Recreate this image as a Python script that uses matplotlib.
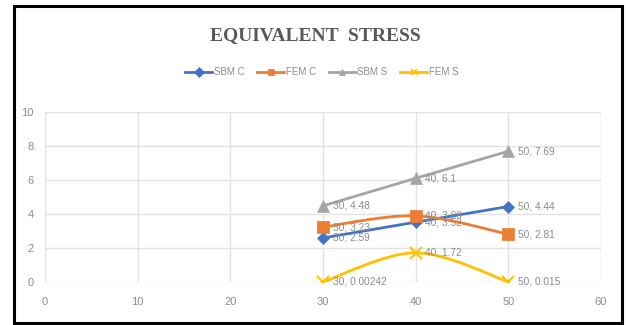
import numpy as np
import matplotlib
matplotlib.use("Agg")
import matplotlib.pyplot as plt
from matplotlib.path import Path
from matplotlib.patches import PathPatch, Rectangle
from matplotlib.lines import Line2D

plt.rcParams['font.family'] = ['Liberation Sans', 'DejaVu Sans']

x = [30, 40, 50]
sbm_c = [2.59, 3.52, 4.44]
fem_c = [3.23, 3.89, 2.81]
sbm_s = [4.48, 6.1, 7.69]
fem_s = [0.00242, 1.72, 0.015]
labels = ["SBM C", "FEM C", "SBM S", "FEM S"]
x_ticks = [0, 10, 20, 30, 40, 50, 60]
y_ticks = [0, 2, 4, 6, 8, 10]

colors = ["#4472C4", "#ED7D31", "#A5A5A5", "#FFC000"]
markers = ["D", "s", "^", "x"]
msizes = [6, 8, 8, 8]
text_gray = "#8C8C8C"


def smooth_path(xs, ys):
    # excel style smoothed line as cubic bezier segments
    pts = np.column_stack([xs, ys])
    n = len(pts)
    verts = [pts[0]]
    codes = [Path.MOVETO]
    for i in range(n - 1):
        p0 = pts[max(i - 1, 0)]
        p1 = pts[i]
        p2 = pts[i + 1]
        p3 = pts[min(i + 2, n - 1)]
        c1 = p1 + (p2 - p0) / 6.0
        c2 = p2 - (p3 - p1) / 6.0
        verts += [c1, c2, p2]
        codes += [Path.CURVE4] * 3
    return Path(verts, codes)


fig = plt.figure(figsize=(6.26, 3.25), dpi=100)
ax = fig.add_axes([45 / 626, 1 - 282 / 325, 556 / 626, 170 / 325])

series = [sbm_c, fem_c, sbm_s, fem_s]
for ys, c, m, ms in zip(series, colors, markers, msizes):
    ax.add_patch(PathPatch(smooth_path(x, ys), facecolor="none",
                           edgecolor=c, lw=2, zorder=3))
    ax.plot(x, ys, linestyle="none", marker=m, color=c, markersize=ms,
            markeredgewidth=1.5 if m == "x" else 0.5, zorder=4)
    for xi, yi in zip(x, ys):
        ax.annotate("%d, %g" % (xi, yi), (xi, yi), xytext=(7, 0),
                    textcoords="offset points", va="center", ha="left",
                    fontsize=7.3, color=text_gray, zorder=5)

ax.set_xlim(0, 60)
ax.set_ylim(0, 10)
ax.set_xticks(x_ticks)
ax.set_yticks(y_ticks)
ax.grid(True, color="#E3E3E3", lw=1)
ax.set_axisbelow(True)
for s in ax.spines.values():
    s.set_visible(False)
ax.tick_params(length=0, labelsize=8, labelcolor=text_gray)
ax.tick_params(axis="x", pad=11)
ax.tick_params(axis="y", pad=8)

fig.text(0.504, 1 - 36 / 325, "EQUIVALENT  STRESS",
         ha="center", va="center", fontsize=14, fontweight="bold",
         family="Liberation Serif", color="#595959")

handles = [Line2D([], [], color=c, marker=m, lw=2, markersize=5,
                  markeredgewidth=1.2 if m == "x" else 0.5)
           for c, m in zip(colors, markers)]
fig.legend(handles, labels, loc="center", bbox_to_anchor=(0.514, 1 - 72 / 325),
           ncol=4, frameon=False, fontsize=7, labelcolor=text_gray,
           handlelength=2.8, handletextpad=0.15, columnspacing=1.3)

fig.add_artist(Rectangle((14 / 626, 2 / 325), 608 / 626, 317 / 325,
                         transform=fig.transFigure, fill=False,
                         edgecolor="black", lw=2.2))

fig.savefig("out.png", dpi=100)
